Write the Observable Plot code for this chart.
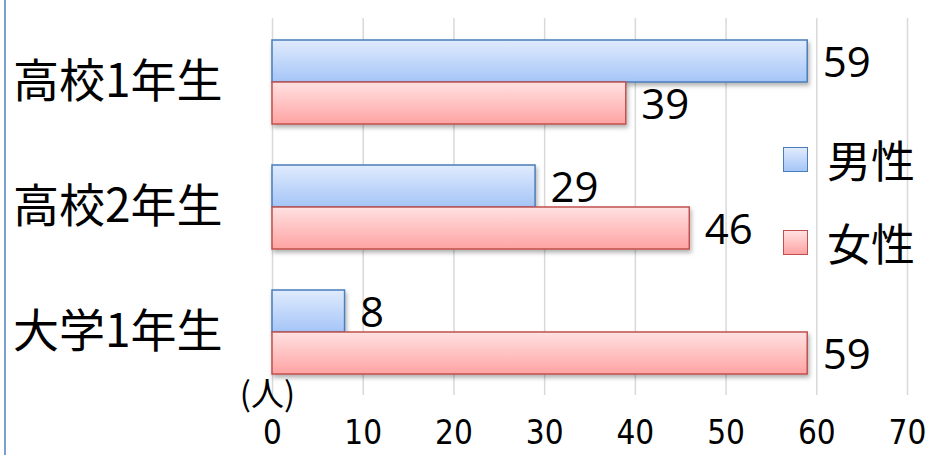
<!DOCTYPE html>
<html>
<head>
<meta charset="utf-8">
<script src="https://cdn.jsdelivr.net/npm/d3@7"></script>
<script src="https://cdn.jsdelivr.net/npm/@observablehq/plot@0.6"></script>
<style>
  html, body { margin: 0; padding: 0; background: #fff; }
  #wrap { position: relative; width: 932px; height: 455px; overflow: hidden; background: #fff; }
  #edge { position: absolute; left: 4px; top: 0; width: 2px; height: 455px; background: #7b9fd1; }
  .legend { position: absolute; left: 783px; font-family: "Noto Sans CJK JP", sans-serif; font-size: 44px; color: #000; display: flex; align-items: center; }
  .legend .sw { width: 23px; height: 23px; margin-right: 19px; }
  .legend span { line-height: 1; }
</style>
</head>
<body>
<div id="wrap">
  <div id="chart"></div>
  <div id="edge"></div>
</div>
<script>
const categories = ["高校1年生", "高校2年生", "大学1年生"];
const seriesNames = ["男性", "女性"];
const maleValues = [59, 29, 8];
const femaleValues = [39, 46, 59];
const xTicks = [0, 10, 20, 30, 40, 50, 60, 70];
const unitLabel = "(人)";

const male = categories.map((c, i) => ({category: c, value: maleValues[i]}));
const female = categories.map((c, i) => ({category: c, value: femaleValues[i]}));

const numFont = "'Open Sans', 'Noto Sans', sans-serif";
const cjkFont = "'Noto Sans CJK JP', sans-serif";

const plot = Plot.plot({
  width: 932,
  height: 455,
  marginLeft: 272,
  marginRight: 25,
  marginTop: 18,
  marginBottom: 60,
  style: {background: "#fff", color: "#000", overflow: "visible"},
  x: {domain: [0, 70], ticks: xTicks},
  y: {domain: categories, paddingInner: 0.33, paddingOuter: 0.167},
  marks: [
    Plot.gridX(xTicks, {stroke: "#d9d9d9", strokeOpacity: 1, strokeWidth: 1.5}),
    Plot.barX(male, {x: "value", y: "category", insetBottom: 42, fill: "url(#gBlue)", stroke: "#4a7ebb", strokeWidth: 1.5}),
    Plot.barX(female, {x: "value", y: "category", insetTop: 42, fill: "url(#gPink)", stroke: "#c0504d", strokeWidth: 1.5}),
    Plot.text(male, {x: "value", y: "category", text: d => String(d.value), textAnchor: "start", dx: 15, dy: -19, fontSize: 42, fontFamily: numFont, fill: "#000"}),
    Plot.text(female, {x: "value", y: "category", text: d => String(d.value), textAnchor: "start", dx: 15, dy: 23, fontSize: 42, fontFamily: numFont, fill: "#000"}),
    Plot.axisX(xTicks, {tickSize: 0, tickPadding: 25, fontSize: 33, fontFamily: "'Liberation Sans Narrow', 'DejaVu Sans Condensed', sans-serif", fill: "#000", label: null}),
    Plot.axisY({tickSize: 0, tickPadding: 50, fontSize: 46, fontFamily: cjkFont, fill: "#000", label: null}),
    Plot.text([unitLabel], {frameAnchor: "bottom-left", text: d => d, textAnchor: "middle", dx: -5, dy: 10, fontSize: 33, fontFamily: cjkFont, fill: "#000"})
  ]
});

const svg = d3.select(plot);
const defs = svg.insert("defs", ":first-child");
const gb = defs.append("linearGradient").attr("id", "gBlue").attr("x1", 0).attr("y1", 0).attr("x2", 0).attr("y2", 1);
gb.append("stop").attr("offset", "0%").attr("stop-color", "#e0ebfd");
gb.append("stop").attr("offset", "100%").attr("stop-color", "#a5c5f7");
const gp = defs.append("linearGradient").attr("id", "gPink").attr("x1", 0).attr("y1", 0).attr("x2", 0).attr("y2", 1);
gp.append("stop").attr("offset", "0%").attr("stop-color", "#ffe1e1");
gp.append("stop").attr("offset", "100%").attr("stop-color", "#ffa3a3");
const f = defs.append("filter").attr("id", "shadow").attr("x", "-5%").attr("y", "-20%").attr("width", "115%").attr("height", "150%");
f.append("feDropShadow").attr("dx", 1.5).attr("dy", 3).attr("stdDeviation", 2).attr("flood-color", "#000").attr("flood-opacity", 0.3);
svg.selectAll("g[aria-label='bar']").attr("filter", "url(#shadow)");

document.getElementById("chart").appendChild(plot);

// legend
const wrap = document.getElementById("wrap");
const legendStyles = [
  {top: 137, bg: "linear-gradient(#e0ebfd, #a5c5f7)", border: "#4a7ebb"},
  {top: 220, bg: "linear-gradient(#ffe1e1, #ffa3a3)", border: "#c0504d"}
];
seriesNames.forEach((name, i) => {
  const item = document.createElement("div");
  item.className = "legend";
  item.style.top = legendStyles[i].top + "px";
  const sw = document.createElement("div");
  sw.className = "sw";
  sw.style.background = legendStyles[i].bg;
  sw.style.border = "1.5px solid " + legendStyles[i].border;
  const label = document.createElement("span");
  label.textContent = name;
  item.appendChild(sw);
  item.appendChild(label);
  wrap.appendChild(item);
});
</script>
</body>
</html>
